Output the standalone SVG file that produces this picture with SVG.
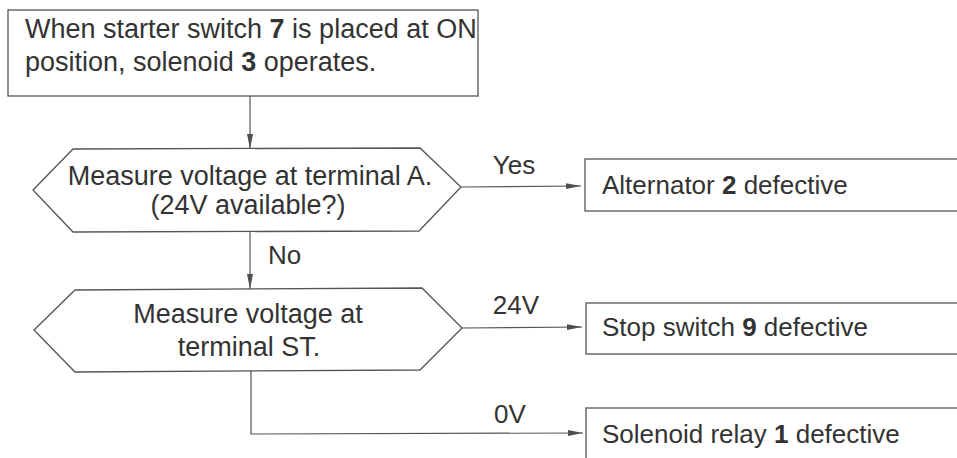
<svg xmlns="http://www.w3.org/2000/svg" width="957" height="458" viewBox="0 0 957 458">
<style>
  .shape { fill: #ffffff; stroke: #555555; stroke-width: 1.3; }
  .conn { fill: none; stroke: #555555; stroke-width: 1.2; }
  text { font-family: "Liberation Sans", Arial, sans-serif; font-size: 26px; fill: #333333; }
  .big { font-size: 27px; }
  .mid { text-anchor: middle; }
  .b { font-weight: bold; }
</style>
<defs>
  <marker id="arrow" viewBox="0 0 15 8" refX="15" refY="4" markerWidth="15" markerHeight="8" markerUnits="userSpaceOnUse" orient="auto">
    <path d="M0,1 L15,4 L0,7 Z" fill="#505050"/>
  </marker>
</defs>
<rect width="957" height="458" fill="#ffffff"/>

<g id="connectors">
  <line class="conn" x1="250" y1="96" x2="250" y2="149" marker-end="url(#arrow)"/>
  <line class="conn" x1="461" y1="187" x2="581" y2="186" marker-end="url(#arrow)"/>
  <line class="conn" x1="250" y1="232" x2="250" y2="289" marker-end="url(#arrow)"/>
  <line class="conn" x1="462" y1="328" x2="582" y2="327" marker-end="url(#arrow)"/>
  <polyline class="conn" points="251,371 251,434 583,433" marker-end="url(#arrow)"/>
  <text x="514" y="174" class="mid">Yes</text>
  <text x="268" y="264">No</text>
  <text x="516" y="314" class="mid">24V</text>
  <text x="510" y="423" class="mid">0V</text>
</g>

<g id="start">
  <rect class="shape" x="8" y="10" width="470" height="86"/>
  <text x="25" y="38" class="big">When starter switch <tspan class="b">7</tspan> is placed at ON</text>
  <text x="25" y="71" class="big">position, solenoid <tspan class="b">3</tspan> operates.</text>
</g>

<g id="check-a">
  <polygon class="shape" points="33,190 73,149 420,148 461,187 419,231 73,232"/>
  <text x="250" y="185" class="mid big">Measure voltage at terminal A.</text>
  <text x="248" y="214" class="mid big">(24V available?)</text>
</g>

<g id="check-st">
  <polygon class="shape" points="34,330 75,290 422,288 462,328 420,370 75,372"/>
  <text x="248" y="323" class="mid big">Measure voltage at</text>
  <text x="249" y="356" class="mid big">terminal ST.</text>
</g>

<g id="alternator">
  <rect class="shape" x="585" y="159" width="380" height="52"/>
  <text x="602" y="194">Alternator <tspan class="b">2</tspan> defective</text>
</g>

<g id="stop-switch">
  <rect class="shape" x="586" y="303" width="380" height="51"/>
  <text x="602" y="336">Stop switch <tspan class="b">9</tspan> defective</text>
</g>

<g id="solenoid-relay">
  <rect class="shape" x="586" y="408" width="380" height="60"/>
  <text x="602" y="443">Solenoid relay <tspan class="b">1</tspan> defective</text>
</g>
</svg>
